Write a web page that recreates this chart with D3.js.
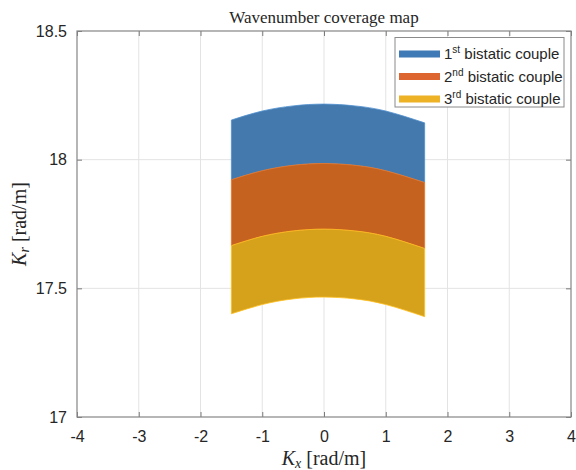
<!DOCTYPE html>
<html>
<head>
<meta charset="UTF-8">
<title>Wavenumber coverage map</title>
<script src="https://d3js.org/d3.v7.min.js"></script>
<style>
  body { margin: 0; background: #fff; }
  .tick text { font-family: "Liberation Sans", Arial, sans-serif; font-size: 16px; fill: #262626; }
  .serif { font-family: "Liberation Serif", "DejaVu Serif", serif; fill: #262626; }
</style>
</head>
<body>
<svg id="chart"></svg>
<script>
// ticks
const xTicks = [-4, -3, -2, -1, 0, 1, 2, 3, 4];
const yTicks = [17, 17.5, 18, 18.5];

// Kx sample positions along each boundary (rad/m)
const kx = [-1.5, -1, -0.5, 0, 0.5, 1, 1.63];

// Kr boundaries (top -> bottom)
const edge0 = [18.154, 18.189, 18.209, 18.216, 18.209, 18.189, 18.143];
const edge1 = [17.922, 17.957, 17.978, 17.985, 17.978, 17.957, 17.911];
const edge2 = [17.666, 17.702, 17.723, 17.730, 17.723, 17.702, 17.655];
const edge3 = [17.401, 17.437, 17.459, 17.466, 17.459, 17.437, 17.390];

const couples = ["1", "2", "3"];
const suffix = ["st", "nd", "rd"];
const fills = ["#4479ad", "#c5621f", "#d6a11b"];
const legendColors = ["#3f7ab6", "#dc6530", "#eeb227"];

const W = 576, H = 470;
const margin = {left: 77, right: 5, top: 31, bottom: 53};

const svg = d3.select("#chart").attr("width", W).attr("height", H);

const x = d3.scaleLinear().domain([-4, 4]).range([margin.left, W - margin.right]);
const y = d3.scaleLinear().domain([17, 18.5]).range([H - margin.bottom, margin.top]);

// grid
svg.append("g").selectAll("line").data(xTicks.slice(1, -1)).join("line")
  .attr("x1", d => x(d)).attr("x2", d => x(d))
  .attr("y1", y(17)).attr("y2", y(18.5))
  .attr("stroke", "#e3e3e3").attr("stroke-width", 1);
svg.append("g").selectAll("line").data(yTicks.slice(1, -1)).join("line")
  .attr("y1", d => y(d)).attr("y2", d => y(d))
  .attr("x1", x(-4)).attr("x2", x(4))
  .attr("stroke", "#e3e3e3").attr("stroke-width", 1);

// bands
const edges = [edge0, edge1, edge2, edge3];
const upper = d3.line().x((d, i) => x(kx[i])).y(d => y(d)).curve(d3.curveNatural);
for (let b = 0; b < 3; b++) {
  const top = edges[b], bot = edges[b + 1];
  const topPath = upper(top);
  const botPts = bot.map((v, i) => [kx[i], v]).reverse();
  const lower = d3.line().x(d => x(d[0])).y(d => y(d[1])).curve(d3.curveNatural)(botPts);
  svg.append("path")
    .attr("d", topPath + "L" + lower.slice(1) + "Z")
    .attr("fill", fills[b])
    .attr("stroke", d3.color(fills[b]).brighter(0.5))
    .attr("stroke-width", 0.8);
}

// axes
const tickLen = 5;
svg.append("g")
  .attr("transform", `translate(0,${y(17)})`)
  .call(d3.axisBottom(x).tickValues(xTicks).tickSize(-tickLen).tickPadding(14).tickFormat(d => String(d)))
  .call(g => g.select(".domain").remove());
svg.append("g")
  .attr("transform", `translate(${x(-4)},0)`)
  .call(d3.axisLeft(y).tickValues(yTicks).tickSize(-tickLen).tickPadding(10).tickFormat(d => d))
  .call(g => g.select(".domain").remove());
svg.append("g")
  .attr("transform", `translate(0,${y(18.5)})`)
  .call(d3.axisTop(x).tickValues(xTicks).tickSize(-tickLen).tickFormat(""))
  .call(g => g.select(".domain").remove());
svg.append("g")
  .attr("transform", `translate(${x(4)},0)`)
  .call(d3.axisRight(y).tickValues(yTicks).tickSize(-tickLen).tickFormat(""))
  .call(g => g.select(".domain").remove());
svg.selectAll(".tick line").attr("stroke", "#7a7a7a");

// box
svg.append("rect")
  .attr("x", x(-4)).attr("y", y(18.5))
  .attr("width", x(4) - x(-4)).attr("height", y(17) - y(18.5))
  .attr("fill", "none").attr("stroke", "#858585").attr("stroke-width", 1.2);

// title and labels
svg.append("text").attr("class", "serif")
  .attr("x", x(0)).attr("y", 23).attr("text-anchor", "middle")
  .attr("font-size", 17).text("Wavenumber coverage map");

const xl = svg.append("text").attr("class", "serif")
  .attr("x", x(0)).attr("y", 465).attr("text-anchor", "middle").attr("font-size", 20);
xl.append("tspan").attr("font-style", "italic").text("K");
xl.append("tspan").attr("font-style", "italic").attr("font-size", 14).attr("dy", 3).text("x");
xl.append("tspan").attr("dy", -3).text(" [rad/m]");

const yl = svg.append("text").attr("class", "serif")
  .attr("transform", `translate(26,${y(17.75)}) rotate(-90)`)
  .attr("text-anchor", "middle").attr("font-size", 20);
yl.append("tspan").attr("font-style", "italic").text("K");
yl.append("tspan").attr("font-style", "italic").attr("font-size", 14).attr("dy", 3).text("r");
yl.append("tspan").attr("dy", -3).text(" [rad/m]");

// legend
const leg = svg.append("g");
leg.append("rect").attr("x", 395).attr("y", 37.5).attr("width", 169).attr("height", 69.5)
  .attr("fill", "#fff").attr("stroke", "#8a8a8a").attr("stroke-width", 1);
couples.forEach((c, i) => {
  const cy = 54 + i * 22.5;
  leg.append("rect").attr("x", 399).attr("y", cy - 3.5).attr("width", 41).attr("height", 7)
    .attr("fill", legendColors[i]);
  const t = leg.append("text").attr("x", 444).attr("y", cy + 5)
    .attr("font-family", "Liberation Sans, Arial, sans-serif").attr("font-size", 15).attr("fill", "#262626");
  t.append("tspan").text(c);
  t.append("tspan").attr("font-size", 10).attr("dy", -6).text(suffix[i]);
  t.append("tspan").attr("dy", 6).text(" bistatic couple");
});
</script>
</body>
</html>
